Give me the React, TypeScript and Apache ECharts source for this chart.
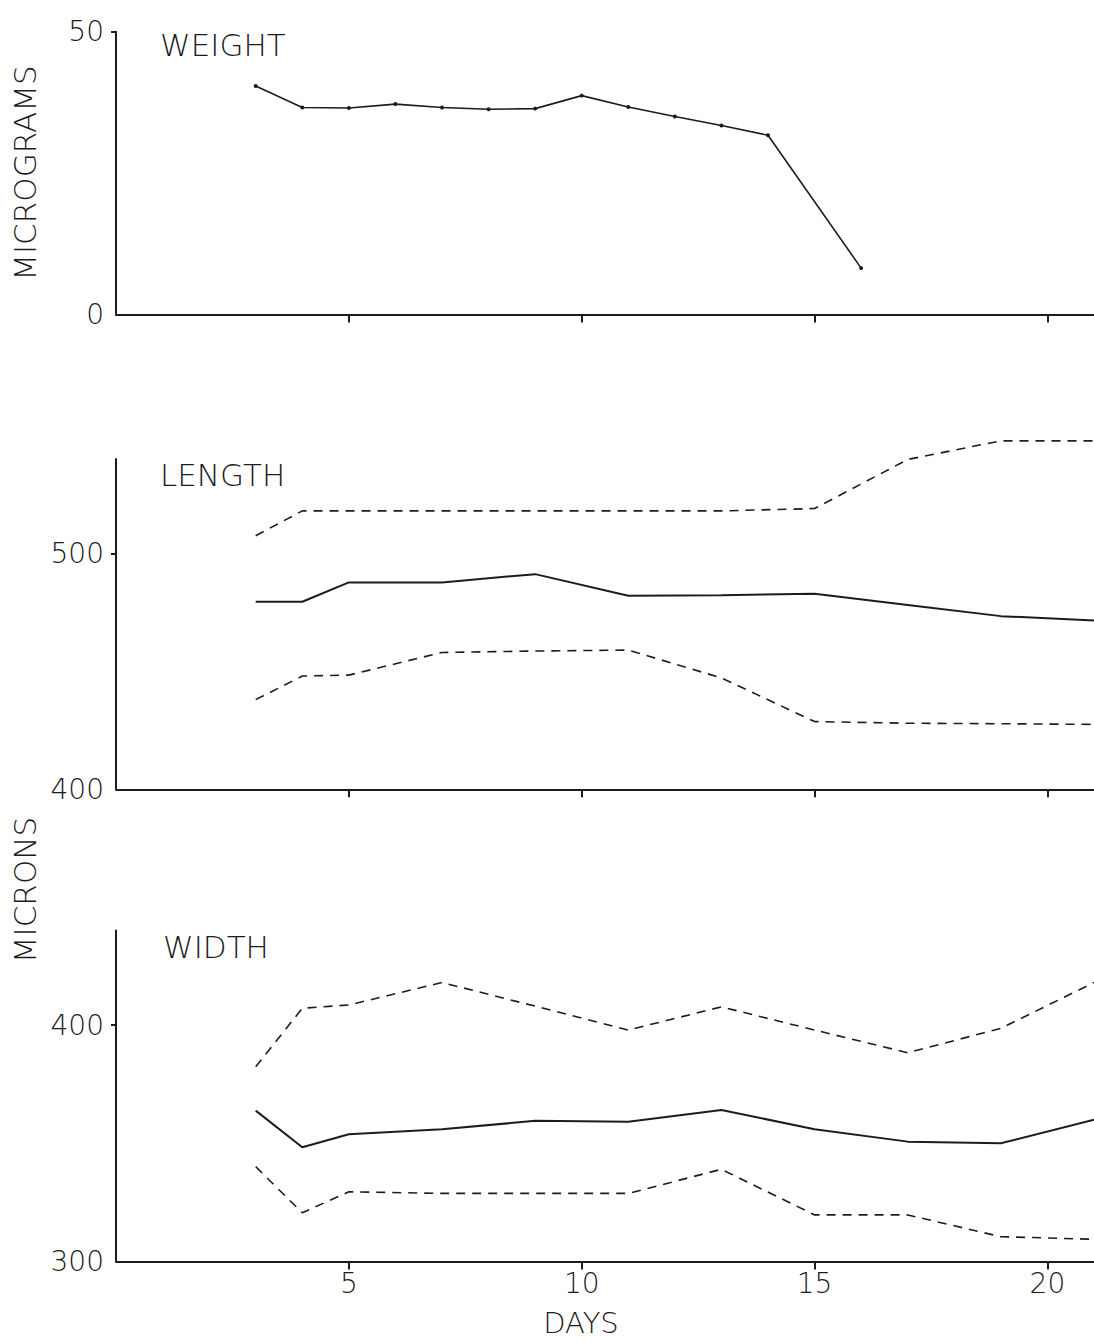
import React, { useEffect, useRef } from "react";
import * as echarts from "echarts";

// ---- data ----
const weightDays = [3, 4, 5, 6, 7, 8, 9, 10, 11, 12, 13, 14, 16];
const weightValues = [40.4, 36.6, 36.5, 37.2, 36.6, 36.3, 36.4, 38.7, 36.7, 35.0, 33.4, 31.7, 8.2];

const sizeDays = [3, 4, 5, 7, 9, 11, 13, 15, 17, 19, 21];
const lengthUpper = [507.5, 518, 518, 518, 518, 518, 518, 519, 539.8, 547.7, 547.7];
const lengthMean = [479.5, 479.5, 487.7, 487.7, 491.2, 482, 482.3, 482.9, 478.1, 473.4, 471.5];
const lengthLower = [438, 448, 448.4, 458, 458.6, 459, 447.2, 428.7, 428, 427.8, 427.5];

const widthUpper = [382.4, 407.1, 408.5, 418, 408, 397.9, 407.7, 397.9, 388.3, 398.6, 418];
const widthMean = [363.8, 348.3, 353.8, 355.9, 359.5, 359.1, 364.1, 355.9, 350.7, 350, 360];
const widthLower = [340.1, 320.6, 329.5, 328.8, 328.8, 328.8, 339, 319.7, 319.7, 310.5, 309.4];

const dayTicks = [5, 10, 15, 20];
const weightLabels = [0, 50];
const weightTicks = [50];
const lengthLabels = [400, 500];
const lengthTicks = [500];
const widthLabels = [300, 400];
const widthTicks = [400];

const panelTitles = ["WEIGHT", "LENGTH", "WIDTH"];

const pairs = (xs: number[], ys: number[]) => xs.map((x, i) => [x, ys[i]]);

const INK = "#1c1c1c";
const FONT = "DejaVu Sans";

export default function App() {
  const ref = useRef<HTMLDivElement>(null);

  useEffect(() => {
    if (!ref.current) return;
    const chart = echarts.init(ref.current, undefined, { renderer: "svg" });

    const left = 116;
    const dayPx = 46.8;
    const gridWidth = dayPx * 21;

    const baseX = (showLabels: boolean) => ({
      type: "value" as const,
      min: 0,
      max: 21,
      interval: 5,
      axisLine: { show: true, lineStyle: { color: INK, width: 2 } },
      axisTick: {
        show: true,
        inside: false,
        length: 8,
        customValues: dayTicks,
        lineStyle: { color: INK, width: 2 },
      },
      splitLine: { show: false },
      axisLabel: {
        show: showLabels,
        customValues: dayTicks,
        fontSize: 28,
        fontFamily: FONT,
        fontWeight: 200,
        color: INK,
        margin: 8,
      },
    });

    const baseY = (min: number, max: number, labels: number[], ticks: number[]) => ({
      type: "value" as const,
      min,
      max,
      interval: 50,
      axisLine: { show: true, lineStyle: { color: INK, width: 2 } },
      axisTick: {
        show: true,
        inside: false,
        length: 5,
        customValues: ticks,
        lineStyle: { color: INK, width: 2 },
      },
      splitLine: { show: false },
      axisLabel: {
        show: true,
        customValues: labels,
        fontSize: 28,
        fontFamily: FONT,
        fontWeight: 200,
        color: INK,
        margin: 12,
        verticalAlign: "middle",
        padding: [0, 0, 20, 0],
      },
    });

    const titleStyle = { fontSize: 31, fontFamily: FONT, fontWeight: 200 as any, color: INK };

    const dashed = { color: INK, width: 1.6, type: [9, 7] as any };
    const solid = { color: INK, width: 2 };

    const lineSeries = (xi: number, data: number[][], style: any) => ({
      type: "line" as const,
      xAxisIndex: xi,
      yAxisIndex: xi,
      data,
      symbol: "none",
      clip: false,
      lineStyle: style,
      itemStyle: { color: INK },
      silent: true,
    });

    const option: any = {
      animation: false,
      backgroundColor: "#ffffff",
      title: [
        { text: panelTitles[0], left: 160, top: 29.5, padding: 0, textStyle: titleStyle },
        { text: panelTitles[1], left: 160, top: 459.5, padding: 0, textStyle: titleStyle },
        { text: panelTitles[2], left: 163, top: 931.5, padding: 0, textStyle: titleStyle },
      ],
      grid: [
        { left, top: 31.7, width: gridWidth, height: 282.8 },
        { left, top: 459, width: gridWidth, height: 330.3 },
        { left, top: 930.5, width: gridWidth, height: 331 },
      ],
      xAxis: [
        { ...baseX(false), gridIndex: 0 },
        { ...baseX(false), gridIndex: 1 },
        {
          ...baseX(true),
          gridIndex: 2,
          name: "DAYS",
          nameLocation: "middle",
          nameGap: 47,
          nameTextStyle: {
            fontSize: 29,
            fontFamily: FONT,
            fontWeight: 200,
            color: INK,
            padding: [0, 48, 0, 0],
          },
        },
      ],
      yAxis: [
        {
          ...baseY(0, 50, weightLabels, weightTicks),
          gridIndex: 0,
          name: "MICROGRAMS",
          nameLocation: "middle",
          nameRotate: 90,
          nameGap: 76,
          nameTextStyle: { fontSize: 31, fontFamily: FONT, fontWeight: 200, color: INK },
        },
        { ...baseY(400, 540, lengthLabels, lengthTicks), gridIndex: 1 },
        { ...baseY(300, 440, widthLabels, widthTicks), gridIndex: 2 },
      ],
      graphic: [
        {
          type: "text",
          x: 25,
          y: 890,
          rotation: Math.PI / 2,
          style: {
            text: "MICRONS",
            fontSize: 31,
            fontFamily: FONT,
            fontWeight: 200,
            fill: INK,
            align: "center",
            verticalAlign: "middle",
            textAlign: "center",
            textVerticalAlign: "middle",
          },
        },
      ],
      series: [
        {
          type: "line",
          xAxisIndex: 0,
          yAxisIndex: 0,
          data: pairs(weightDays, weightValues),
          symbol: "circle",
          symbolSize: 4,
          showSymbol: true,
          lineStyle: { color: INK, width: 1.6 },
          itemStyle: { color: INK },
          silent: true,
        },
        lineSeries(1, pairs(sizeDays, lengthUpper), dashed),
        lineSeries(1, pairs(sizeDays, lengthMean), solid),
        lineSeries(1, pairs(sizeDays, lengthLower), dashed),
        lineSeries(2, pairs(sizeDays, widthUpper), dashed),
        lineSeries(2, pairs(sizeDays, widthMean), solid),
        lineSeries(2, pairs(sizeDays, widthLower), dashed),
      ],
    };

    chart.setOption(option);
    return () => chart.dispose();
  }, []);

  return (
    <div
      ref={ref}
      style={{ position: "absolute", left: 0, top: 0, width: 1094, height: 1341, background: "#fff" }}
    />
  );
}
